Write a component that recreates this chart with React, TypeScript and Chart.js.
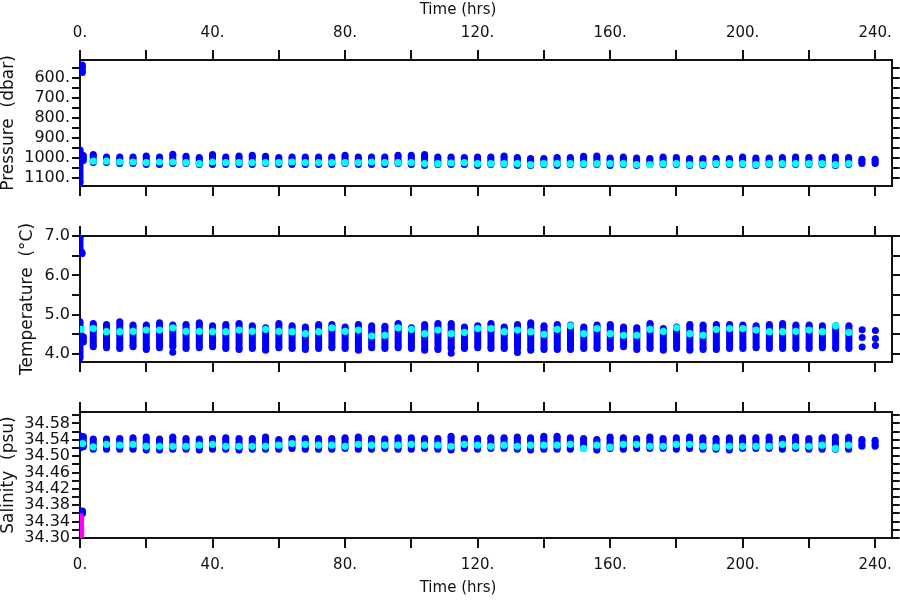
import React, { useEffect, useRef } from 'react';
import { Chart, registerables } from 'chart.js';

Chart.register(...registerables);

// ---------------- data ----------------
const HOURS = [4, 8, 12, 16, 20, 24, 28, 32, 36, 40, 44, 48, 52, 56, 60, 64, 68, 72, 76, 80,
  84, 88, 92, 96, 100, 104, 108, 112, 116, 120, 124, 128, 132, 136, 140, 144, 148, 152, 156, 160,
  164, 168, 172, 176, 180, 184, 188, 192, 196, 200, 204, 208, 212, 216, 220, 224, 228, 232, 236, 240];

const X_MIN = 0;
const X_MAX = 245;
const X_TICKS = [0, 20, 40, 60, 80, 100, 120, 140, 160, 180, 200, 220, 240];
const X_TICK_LABELS = ['0.', '', '40.', '', '80.', '', '120.', '', '160.', '', '200.', '', '240.'];

// Pressure (dbar): shallowest / deepest sample of each station and mean (cyan)
const PRES_TOP = [983, 995, 995, 995, 990, 995, 981, 991, 998, 983, 995, 990, 986, 991, 998, 995, 995, 995, 995, 986,
  995, 995, 995, 986, 986, 983, 995, 995, 998, 995, 995, 990, 998, 1003, 1003, 998, 998, 991, 990, 1000,
  995, 1000, 1003, 995, 998, 1003, 1003, 1003, 1003, 995, 1000, 1000, 998, 995, 998, 998, 995, 998, 1006, 1006];
const PRES_BOTTOM = [1023, 1023, 1028, 1028, 1032, 1032, 1028, 1028, 1033, 1032, 1032, 1032, 1032, 1028, 1032, 1032, 1032, 1032, 1032, 1028,
  1032, 1032, 1032, 1028, 1032, 1037, 1033, 1032, 1032, 1037, 1032, 1032, 1037, 1037, 1033, 1037, 1033, 1032, 1032, 1037,
  1032, 1037, 1033, 1032, 1033, 1037, 1037, 1033, 1032, 1032, 1037, 1033, 1032, 1032, 1033, 1033, 1037, 1033, 1028, 1028];
const PRES_MEAN = [1016, 1016, 1020, 1020, 1023, 1020, 1020, 1023, 1028, 1020, 1023, 1023, 1023, 1023, 1023, 1020, 1023, 1023, 1023, 1023,
  1023, 1020, 1023, 1023, 1023, 1028, 1028, 1025, 1023, 1028, 1028, 1028, 1028, 1033, 1028, 1028, 1028, 1028, 1028, 1028,
  1028, 1033, 1033, 1028, 1028, 1033, 1033, 1028, 1028, 1028, 1033, 1028, 1028, 1028, 1028, 1028, 1033, 1028, null, null];
const PRES_CAST_HOURS = [0, 0.7, 1.0];
const PRES_CAST_LOW = [960, 535, 988];
const PRES_CAST_HIGH = [1125, 572, 1012];
const PRES_TICKS = [550, 600, 650, 700, 750, 800, 850, 900, 950, 1000, 1050, 1100];
const PRES_TICK_LABELS = ['', '600.', '', '700.', '', '800.', '', '900.', '', '1000.', '', '1100.'];

// Temperature (degC)
const TEMP_TOP = [4.78, 4.75, 4.82, 4.74, 4.74, 4.80, 4.74, 4.75, 4.80, 4.72, 4.75, 4.78, 4.72, 4.67, 4.78, 4.72, 4.69, 4.75, 4.75, 4.69,
  4.75, 4.72, 4.71, 4.78, 4.67, 4.75, 4.78, 4.78, 4.69, 4.72, 4.78, 4.69, 4.75, 4.80, 4.72, 4.75, 4.74, 4.69, 4.74, 4.75,
  4.69, 4.67, 4.78, 4.65, 4.69, 4.75, 4.74, 4.75, 4.75, 4.74, 4.72, 4.75, 4.78, 4.74, 4.74, 4.72, 4.72, 4.72, null, null];
const TEMP_BOTTOM = [4.19, 4.16, 4.14, 4.19, 4.12, 4.16, 4.19, 4.14, 4.16, 4.19, 4.14, 4.12, 4.14, 4.10, 4.16, 4.14, 4.12, 4.14, 4.16, 4.14,
  4.10, 4.16, 4.14, 4.16, 4.14, 4.10, 4.12, 4.14, 4.14, 4.16, 4.14, 4.14, 4.14, 4.10, 4.12, 4.12, 4.12, 4.14, 4.14, 4.14,
  4.19, 4.12, 4.14, 4.10, 4.14, 4.10, 4.12, 4.12, 4.14, 4.14, 4.16, 4.14, 4.14, 4.14, 4.14, 4.16, 4.14, 4.14, null, null];
const TEMP_MEAN = [4.65, 4.57, 4.57, 4.58, 4.61, 4.61, 4.67, 4.58, 4.58, 4.57, 4.57, 4.61, 4.58, 4.63, 4.58, 4.57, 4.52, 4.57, 4.67, 4.58,
  4.61, 4.46, 4.48, 4.67, 4.63, 4.52, 4.61, 4.52, 4.55, 4.65, 4.65, 4.57, 4.61, 4.57, 4.50, 4.63, 4.72, 4.52, 4.65, 4.52,
  4.48, 4.48, 4.63, 4.58, 4.67, 4.52, 4.48, 4.63, 4.65, 4.65, 4.61, 4.57, 4.57, 4.58, 4.61, 4.57, 4.72, 4.55, null, null];
const TEMP_DOT_HOURS = [28, 112, 132, 236, 236, 236, 240, 240, 240];
const TEMP_DOT_VALUES = [4.05, 4.02, 4.04, 4.62, 4.42, 4.18, 4.60, 4.40, 4.22];
const TEMP_CAST_HOURS = [0, 0, 0.6, 1.0];
const TEMP_CAST_LOW = [3.90, 6.62, 6.55, 4.31];
const TEMP_CAST_HIGH = [4.82, 6.98, 6.58, 4.44];
const TEMP_CAST_MEAN_HOURS = [0.3];
const TEMP_CAST_MEAN = [4.63];
const TEMP_TICKS = [4.0, 4.5, 5.0, 5.5, 6.0, 6.5, 7.0];
const TEMP_TICK_LABELS = ['4.0', '', '5.0', '', '6.0', '', '7.0'];

// Salinity (psu)
const SAL_TOP = [34.542, 34.542, 34.543, 34.545, 34.547, 34.542, 34.547, 34.543, 34.542, 34.543, 34.545, 34.543, 34.543, 34.547, 34.541,
  34.543, 34.543, 34.543, 34.543, 34.545, 34.547, 34.543, 34.542, 34.545, 34.545, 34.543, 34.543, 34.549, 34.543, 34.543,
  34.545, 34.545, 34.547, 34.545, 34.549, 34.549, 34.545, 34.543, 34.541, 34.547, 34.545, 34.543, 34.547, 34.543, 34.545,
  34.547, 34.545, 34.543, 34.545, 34.545, 34.545, 34.547, 34.543, 34.547, 34.543, 34.545, 34.547, 34.546, 34.541, 34.539];
const SAL_BOTTOM = [34.517, 34.517, 34.517, 34.517, 34.515, 34.515, 34.517, 34.517, 34.515, 34.517, 34.517, 34.515, 34.517, 34.517, 34.517,
  34.519, 34.517, 34.517, 34.517, 34.519, 34.517, 34.517, 34.519, 34.517, 34.517, 34.519, 34.517, 34.515, 34.519, 34.517,
  34.519, 34.519, 34.517, 34.515, 34.517, 34.517, 34.517, 34.519, 34.515, 34.519, 34.517, 34.519, 34.519, 34.519, 34.517,
  34.519, 34.517, 34.517, 34.515, 34.519, 34.519, 34.519, 34.517, 34.519, 34.517, 34.517, 34.517, 34.517, 34.524, 34.524];
const SAL_MEAN = [34.523, 34.529, 34.527, 34.529, 34.524, 34.524, 34.524, 34.524, 34.527, 34.529, 34.524, 34.524, 34.524, 34.524, 34.527,
  34.531, 34.529, 34.527, 34.527, 34.524, 34.529, 34.527, 34.527, 34.527, 34.529, 34.527, 34.527, 34.524, 34.529, 34.527,
  34.524, 34.527, 34.524, 34.527, 34.527, 34.527, 34.529, 34.519, 34.527, 34.522, 34.529, 34.529, 34.524, 34.524, 34.529,
  34.529, 34.524, 34.522, 34.524, 34.524, 34.524, 34.524, 34.529, 34.524, 34.524, 34.527, 34.519, 34.527, null, null];
const SAL_CAST_HOURS = [0, 1.0, 0.75];
const SAL_CAST_LOW = [34.520, 34.523, 34.360];
const SAL_CAST_HIGH = [34.550, 34.548, 34.366];
const SAL_MAGENTA_HOURS = [0.2];
const SAL_MAGENTA_LOW = [34.302];
const SAL_MAGENTA_HIGH = [34.352];
const SAL_CAST_MEAN_HOURS = [0.8];
const SAL_CAST_MEAN = [34.531];
const SAL_TICKS = [34.30, 34.32, 34.34, 34.36, 34.38, 34.40, 34.42, 34.44, 34.46, 34.48, 34.50, 34.52, 34.54, 34.56, 34.58, 34.60];
const SAL_TICK_LABELS = ['34.30', '', '34.34', '', '34.38', '', '34.42', '', '34.46', '', '34.50', '', '34.54', '', '34.58', ''];

// ---------------- styles ----------------
const BLUE = '#0000ff';
const CYAN = '#00ffff';
const MAGENTA = '#ff00ff';
const INK = '#111111';
const FONT = "'DejaVu Sans', sans-serif";

Chart.defaults.font.family = FONT;
Chart.defaults.color = INK;

function bars(hours: number[], low: (number | null)[], high: (number | null)[], color: string, order: number) {
  const data: any[] = [];
  hours.forEach((h, i) => {
    if (low[i] != null && high[i] != null) data.push({ x: h, y: [low[i], high[i]] });
  });
  return {
    type: 'bar', data, backgroundColor: color, borderWidth: 0, barThickness: 7, grouped: false,
    inflateAmount: 0, order, clip: 0, xAxisID: 'x', yAxisID: 'y',
  };
}

function dots(hours: number[], values: (number | null)[], color: string, order: number, radius = 3.5) {
  const data: any[] = [];
  hours.forEach((h, i) => {
    if (values[i] != null) data.push({ x: h, y: values[i] });
  });
  return {
    type: 'scatter', data, pointRadius: radius, pointHoverRadius: radius, pointBackgroundColor: color,
    pointBorderWidth: 0, showLine: false, order, clip: 0, xAxisID: 'x', yAxisID: 'y',
  };
}

function xAxis(position: string, height: number, showLabels: boolean) {
  return {
    type: 'linear', axis: 'x', position, min: X_MIN, max: X_MAX, offset: false, bounds: 'data',
    afterBuildTicks: (s: any) => { s.ticks = X_TICKS.map((v) => ({ value: v })); },
    afterFit: (s: any) => { s.height = height; },
    ticks: {
      display: showLabels, autoSkip: false, maxRotation: 0, minRotation: 0, padding: 8, color: INK,
      font: { size: 15, family: FONT }, callback: (_v: any, i: number) => X_TICK_LABELS[i],
    },
    grid: {
      display: true, drawOnChartArea: false, drawTicks: true, tickLength: 10, tickWidth: 2,
      tickColor: INK, lineWidth: 2, color: INK, offset: false,
    },
    border: { display: true, width: 2, color: INK },
  };
}

function yAxis(p: any, position: string, width: number, showLabels: boolean) {
  return {
    type: 'linear', axis: 'y', position, min: p.min, max: p.max, reverse: !!p.reverse, bounds: 'data',
    beginAtZero: false,
    afterBuildTicks: (s: any) => { s.ticks = p.ticks.map((v: number) => ({ value: v })); },
    afterFit: (s: any) => { s.width = width; },
    ticks: {
      display: showLabels, autoSkip: false, padding: 2, color: INK,
      font: { size: 16, family: FONT }, callback: (_v: any, i: number) => p.labels[i],
    },
    grid: {
      display: true, drawOnChartArea: false, drawTicks: true, tickLength: 8, tickWidth: 2,
      tickColor: INK, lineWidth: 2, color: INK,
    },
    border: { display: true, width: 2, color: INK },
    title: {
      display: showLabels, text: p.title, color: INK, font: { size: 17, family: FONT },
      padding: { top: p.titlePad, bottom: 0 },
    },
  };
}

function makeConfig(spec: any) {
  return {
    type: 'scatter',
    data: { datasets: spec.datasets },
    options: {
      responsive: false,
      maintainAspectRatio: false,
      animation: false,
      devicePixelRatio: 1,
      events: [],
      layout: { padding: { left: 16, right: 0, top: 0, bottom: 0 } },
      plugins: {
        legend: { display: false },
        tooltip: { enabled: false },
        title: {
          display: !!spec.titlePosition, text: 'Time (hrs)', position: spec.titlePosition || 'top',
          align: 'center', color: INK, font: { size: 15, weight: 'normal', family: FONT },
          padding: spec.titlePosition === 'bottom' ? { top: 0, bottom: 3 } : { top: 1, bottom: 0 },
        },
      },
      scales: {
        xt: xAxis('top', spec.topHeight, spec.topLabels),
        x: xAxis('bottom', spec.bottomHeight, spec.bottomLabels),
        y: yAxis(spec.y, 'left', 64, true),
        yr: yAxis(spec.y, 'right', 8, false),
      },
    },
  };
}

function pressureConfig() {
  return makeConfig({
    titlePosition: 'top', topHeight: 41, bottomHeight: 14, topLabels: true, bottomLabels: false,
    y: { min: 510, max: 1140, reverse: true, ticks: PRES_TICKS, labels: PRES_TICK_LABELS, title: 'Pressure  (dbar)', titlePad: -18 },
    datasets: [
      dots(HOURS, PRES_MEAN, CYAN, 0, 3.6),
      dots(HOURS, PRES_TOP, BLUE, 2),
      dots(HOURS, PRES_BOTTOM, BLUE, 2),
      bars(HOURS, PRES_TOP, PRES_BOTTOM, BLUE, 3),
      dots(PRES_CAST_HOURS, PRES_CAST_LOW, BLUE, 2),
      dots(PRES_CAST_HOURS, PRES_CAST_HIGH, BLUE, 2),
      bars(PRES_CAST_HOURS, PRES_CAST_LOW, PRES_CAST_HIGH, BLUE, 3),
    ],
  });
}

function temperatureConfig() {
  return makeConfig({
    titlePosition: null, topHeight: 36, bottomHeight: 18, topLabels: false, bottomLabels: false,
    y: { min: 3.8, max: 7.0, reverse: false, ticks: TEMP_TICKS, labels: TEMP_TICK_LABELS, title: 'Temperature  (°C)', titlePad: 1 },
    datasets: [
      dots(HOURS, TEMP_MEAN, CYAN, 0, 3.6),
      dots(TEMP_CAST_MEAN_HOURS, TEMP_CAST_MEAN, CYAN, 0, 3.6),
      dots(HOURS, TEMP_TOP, BLUE, 2),
      dots(HOURS, TEMP_BOTTOM, BLUE, 2),
      dots(TEMP_DOT_HOURS, TEMP_DOT_VALUES, BLUE, 2),
      bars(HOURS, TEMP_BOTTOM, TEMP_TOP, BLUE, 3),
      dots(TEMP_CAST_HOURS, TEMP_CAST_LOW, BLUE, 2),
      dots(TEMP_CAST_HOURS, TEMP_CAST_HIGH, BLUE, 2),
      bars(TEMP_CAST_HOURS, TEMP_CAST_LOW, TEMP_CAST_HIGH, BLUE, 3),
    ],
  });
}

function salinityConfig() {
  return makeConfig({
    titlePosition: 'bottom', topHeight: 32, bottomHeight: 41, topLabels: false, bottomLabels: true,
    y: { min: 34.30, max: 34.608, reverse: false, ticks: SAL_TICKS, labels: SAL_TICK_LABELS, title: 'Salinity  (psu)', titlePad: -18 },
    datasets: [
      dots(HOURS, SAL_MEAN, CYAN, 0, 3.6),
      dots(SAL_CAST_MEAN_HOURS, SAL_CAST_MEAN, CYAN, 0, 3.6),
      dots(SAL_MAGENTA_HOURS, SAL_MAGENTA_LOW, MAGENTA, 1),
      dots(SAL_MAGENTA_HOURS, SAL_MAGENTA_HIGH, MAGENTA, 1),
      bars(SAL_MAGENTA_HOURS, SAL_MAGENTA_LOW, SAL_MAGENTA_HIGH, MAGENTA, 1),
      dots(HOURS, SAL_TOP, BLUE, 2),
      dots(HOURS, SAL_BOTTOM, BLUE, 2),
      bars(HOURS, SAL_BOTTOM, SAL_TOP, BLUE, 3),
      dots(SAL_CAST_HOURS, SAL_CAST_LOW, BLUE, 2),
      dots(SAL_CAST_HOURS, SAL_CAST_HIGH, BLUE, 2),
      bars(SAL_CAST_HOURS, SAL_CAST_LOW, SAL_CAST_HIGH, BLUE, 3),
    ],
  });
}

function Panel({ top, height, build }: { top: number; height: number; build: () => any }) {
  const ref = useRef<HTMLCanvasElement>(null);
  useEffect(() => {
    const chart = new Chart(ref.current as HTMLCanvasElement, build());
    return () => chart.destroy();
  }, [build]);
  return (
    <canvas
      ref={ref}
      width={900}
      height={height}
      style={{ position: 'absolute', left: 0, top, width: 900, height, display: 'block' }}
    />
  );
}

export default function App() {
  return (
    <div style={{ position: 'fixed', left: 0, top: 0, width: 900, height: 600, background: '#ffffff', overflow: 'hidden' }}>
      <Panel top={0} height={200} build={pressureConfig} />
      <Panel top={200} height={180} build={temperatureConfig} />
      <Panel top={380} height={220} build={salinityConfig} />
    </div>
  );
}
